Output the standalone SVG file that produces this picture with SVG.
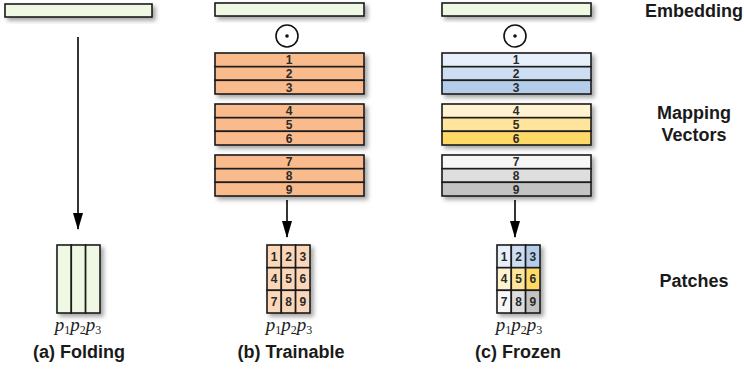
<svg xmlns="http://www.w3.org/2000/svg" width="744" height="372" viewBox="0 0 744 372">
<defs>
<filter id="sh" x="-10%" y="-30%" width="130%" height="180%">
<feDropShadow dx="3" dy="3" stdDeviation="2" flood-color="#000" flood-opacity="0.35"/>
</filter>
<marker id="ah" markerWidth="17" markerHeight="10" refX="16" refY="5" orient="auto" markerUnits="userSpaceOnUse" viewBox="0 0 17 10">
<path d="M0,0 L17,5 L0,10 Z" fill="#000"/>
</marker>
</defs>
<style>
.bar{stroke:#1a1a1a;stroke-width:1.6}
.emb{fill:#EFF8E3}
.or{fill:#F9BA8C}
.pt{fill:#FCD6B8}
.b1{fill:#E6EFFA}.b2{fill:#CDDEF2}.b3{fill:#B3CDEA}
.y4{fill:#FFF3D1}.y5{fill:#FFE49B}.y6{fill:#FFD966}
.g7{fill:#F7F7F7}.g8{fill:#DEDEDE}.g9{fill:#C3C3C3}
.n{font-family:"Liberation Sans",Arial,sans-serif;font-weight:bold;font-size:12px;fill:#2a2a2a;text-anchor:middle}
.gn{font-family:"Liberation Sans",Arial,sans-serif;font-weight:bold;font-size:12px;fill:#2a2a2a;text-anchor:middle}
.lab{font-family:"Liberation Sans",Arial,sans-serif;font-weight:bold;font-size:18px;fill:#1a1a1a;text-anchor:middle}
.p{font-family:"Liberation Serif","Times New Roman",serif;font-style:italic;font-size:19px;fill:#222;text-anchor:middle}
.s{font-style:normal;font-size:12px}
.conn{stroke:#000;stroke-width:1.6;fill:none}
</style>

<g id="panel-a">
<g id="emb-a" filter="url(#sh)"><rect class="bar emb" x="5" y="4" width="147" height="13"/></g>
<g id="patch-a" filter="url(#sh)">
<rect class="bar emb" x="57" y="245" width="14.3" height="68"/>
<rect class="bar emb" x="71.3" y="245" width="14.3" height="68"/>
<rect class="bar emb" x="85.6" y="245" width="14.4" height="68"/>
</g>
<text class="p" x="78" y="331">p<tspan class="s" dy="3">1</tspan><tspan dy="-3">p</tspan><tspan class="s" dy="3">2</tspan><tspan dy="-3">p</tspan><tspan class="s" dy="3">3</tspan></text>
<text class="lab" x="79" y="358">(a) Folding</text>
</g>

<g id="panel-b">
<g id="emb-b" filter="url(#sh)"><rect class="bar emb" x="215" y="3" width="149" height="13"/></g>
<g id="odot-b"><circle cx="287" cy="36" r="11" fill="#fff" stroke="#111" stroke-width="1.6"/><circle cx="287" cy="36" r="1.8" fill="#111"/></g>
<g id="map-b" filter="url(#sh)">
<rect class="bar or" x="215" y="53" width="149" height="13.7"/>
<rect class="bar or" x="215" y="66.7" width="149" height="13.6"/>
<rect class="bar or" x="215" y="80.3" width="149" height="13.7"/>
<rect class="bar or" x="215" y="104" width="149" height="13.7"/>
<rect class="bar or" x="215" y="117.7" width="149" height="13.6"/>
<rect class="bar or" x="215" y="131.3" width="149" height="13.7"/>
<rect class="bar or" x="215" y="155" width="149" height="13.7"/>
<rect class="bar or" x="215" y="168.7" width="149" height="13.6"/>
<rect class="bar or" x="215" y="182.3" width="149" height="13.7"/>
</g>
<g id="map-b-labels">
<text class="n" x="289" y="64.3">1</text>
<text class="n" x="289" y="77.9">2</text>
<text class="n" x="289" y="91.5">3</text>
<text class="n" x="289" y="115.3">4</text>
<text class="n" x="289" y="128.9">5</text>
<text class="n" x="289" y="142.5">6</text>
<text class="n" x="289" y="166.3">7</text>
<text class="n" x="289" y="179.9">8</text>
<text class="n" x="289" y="193.5">9</text>
</g>
<g id="patch-b" filter="url(#sh)">
<rect class="bar pt" x="267" y="245" width="14.3" height="22.7"/>
<rect class="bar pt" x="281.3" y="245" width="14.3" height="22.7"/>
<rect class="bar pt" x="295.6" y="245" width="14.4" height="22.7"/>
<rect class="bar pt" x="267" y="267.7" width="14.3" height="22.6"/>
<rect class="bar pt" x="281.3" y="267.7" width="14.3" height="22.6"/>
<rect class="bar pt" x="295.6" y="267.7" width="14.4" height="22.6"/>
<rect class="bar pt" x="267" y="290.3" width="14.3" height="22.7"/>
<rect class="bar pt" x="281.3" y="290.3" width="14.3" height="22.7"/>
<rect class="bar pt" x="295.6" y="290.3" width="14.4" height="22.7"/>
</g>
<g id="patch-b-labels">
<text class="gn" x="274.2" y="260.5">1</text><text class="gn" x="288.5" y="260.5">2</text><text class="gn" x="302.8" y="260.5">3</text>
<text class="gn" x="274.2" y="283.2">4</text><text class="gn" x="288.5" y="283.2">5</text><text class="gn" x="302.8" y="283.2">6</text>
<text class="gn" x="274.2" y="305.8">7</text><text class="gn" x="288.5" y="305.8">8</text><text class="gn" x="302.8" y="305.8">9</text>
</g>
<text class="p" x="289" y="331">p<tspan class="s" dy="3">1</tspan><tspan dy="-3">p</tspan><tspan class="s" dy="3">2</tspan><tspan dy="-3">p</tspan><tspan class="s" dy="3">3</tspan></text>
<text class="lab" x="291" y="358">(b) Trainable</text>
</g>

<g id="panel-c">
<g id="emb-c" filter="url(#sh)"><rect class="bar emb" x="442" y="3" width="149" height="13"/></g>
<g id="odot-c"><circle cx="515" cy="36" r="11" fill="#fff" stroke="#111" stroke-width="1.6"/><circle cx="515" cy="36" r="1.8" fill="#111"/></g>
<g id="map-c" filter="url(#sh)">
<rect class="bar b1" x="442" y="53" width="149" height="13.7"/>
<rect class="bar b2" x="442" y="66.7" width="149" height="13.6"/>
<rect class="bar b3" x="442" y="80.3" width="149" height="13.7"/>
<rect class="bar y4" x="442" y="104" width="149" height="13.7"/>
<rect class="bar y5" x="442" y="117.7" width="149" height="13.6"/>
<rect class="bar y6" x="442" y="131.3" width="149" height="13.7"/>
<rect class="bar g7" x="442" y="155" width="149" height="13.7"/>
<rect class="bar g8" x="442" y="168.7" width="149" height="13.6"/>
<rect class="bar g9" x="442" y="182.3" width="149" height="13.7"/>
</g>
<g id="map-c-labels">
<text class="n" x="516" y="64.3">1</text>
<text class="n" x="516" y="77.9">2</text>
<text class="n" x="516" y="91.5">3</text>
<text class="n" x="516" y="115.3">4</text>
<text class="n" x="516" y="128.9">5</text>
<text class="n" x="516" y="142.5">6</text>
<text class="n" x="516" y="166.3">7</text>
<text class="n" x="516" y="179.9">8</text>
<text class="n" x="516" y="193.5">9</text>
</g>
<g id="patch-c" filter="url(#sh)">
<rect class="bar b1" x="497" y="245" width="14.3" height="22.7"/>
<rect class="bar b2" x="511.3" y="245" width="14.3" height="22.7"/>
<rect class="bar b3" x="525.6" y="245" width="14.4" height="22.7"/>
<rect class="bar y4" x="497" y="267.7" width="14.3" height="22.6"/>
<rect class="bar y5" x="511.3" y="267.7" width="14.3" height="22.6"/>
<rect class="bar y6" x="525.6" y="267.7" width="14.4" height="22.6"/>
<rect class="bar g7" x="497" y="290.3" width="14.3" height="22.7"/>
<rect class="bar g8" x="511.3" y="290.3" width="14.3" height="22.7"/>
<rect class="bar g9" x="525.6" y="290.3" width="14.4" height="22.7"/>
</g>
<g id="patch-c-labels">
<text class="gn" x="504.2" y="260.5">1</text><text class="gn" x="518.5" y="260.5">2</text><text class="gn" x="532.8" y="260.5">3</text>
<text class="gn" x="504.2" y="283.2">4</text><text class="gn" x="518.5" y="283.2">5</text><text class="gn" x="532.8" y="283.2">6</text>
<text class="gn" x="504.2" y="305.8">7</text><text class="gn" x="518.5" y="305.8">8</text><text class="gn" x="532.8" y="305.8">9</text>
</g>
<text class="p" x="519" y="331">p<tspan class="s" dy="3">1</tspan><tspan dy="-3">p</tspan><tspan class="s" dy="3">2</tspan><tspan dy="-3">p</tspan><tspan class="s" dy="3">3</tspan></text>
<text class="lab" x="518" y="358">(c) Frozen</text>
</g>

<g id="connectors">
<line class="conn" x1="78" y1="37" x2="78" y2="229" marker-end="url(#ah)"/>
<line class="conn" x1="287" y1="200" x2="287" y2="237" marker-end="url(#ah)"/>
<line class="conn" x1="515" y1="200" x2="515" y2="237" marker-end="url(#ah)"/>
</g>

<g id="row-labels">
<text class="lab" x="694" y="17">Embedding</text>
<text class="lab" x="694" y="119">Mapping</text>
<text class="lab" x="694" y="141">Vectors</text>
<text class="lab" x="694" y="287">Patches</text>
</g>
</svg>
